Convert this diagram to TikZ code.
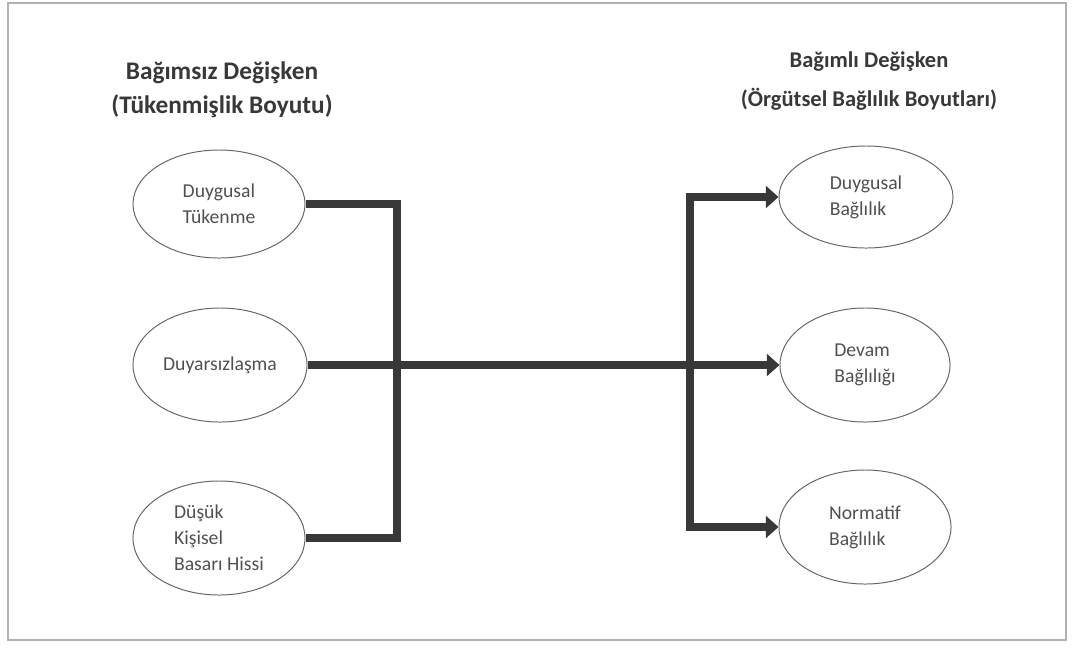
\documentclass[tikz,border=0pt]{standalone}
\usepackage{fontspec}
\setmainfont{Carlito}
\usepackage{tikz}
\usetikzlibrary{shapes.geometric,arrows.meta}
\definecolor{linegray}{HTML}{383838}
\definecolor{textgray}{HTML}{505050}

\begin{document}
\begin{tikzpicture}[x=0.025cm,y=-0.025cm,
    oval/.style={ellipse,draw=gray!80!black,line width=0.7pt,inner sep=0pt,
      align=left,text=textgray,font=\fontsize{14}{18.5}\selectfont},
    link/.style={draw=linegray,line width=5.6pt,line join=miter},
    arr/.style={link,-{Triangle[length=9pt,width=15.5pt]}}]
   \useasboundingbox (0,0) rectangle (1072,647);
   \draw[gray!60,line width=0.8pt] (8,3) rectangle (1066,640);
   % titles
   \node[align=center,text=linegray,font=\bfseries\fontsize{18}{24}\selectfont] (ttl_in) at (222,90)
      {Bağımsız Değişken\\(Tükenmişlik Boyutu)};
   \node[align=center,text=linegray,font=\bfseries\fontsize{16}{28}\selectfont] (ttl_dep) at (869,81)
      {Bağımlı Değişken\\(Örgütsel Bağlılık Boyutları)};
   % independent dimensions
   \node[oval,minimum width=4.3cm,minimum height=2.7cm] (in_1) at (219,204) {Duygusal\\Tükenme};
   \node[oval,minimum width=4.35cm,minimum height=2.85cm] (in_2) at (220,365) {Duyarsızlaşma};
   \node[oval,minimum width=4.3cm,minimum height=2.85cm] (in_3) at (219,538) {Düşük\\Kişisel\\Basarı Hissi};
   % dependent dimensions
   \node[oval,minimum width=4.35cm,minimum height=2.55cm] (dep_1) at (866,197) {Duygusal\\Bağlılık};
   \node[oval,minimum width=4.25cm,minimum height=2.85cm] (dep_2) at (865,365) {Devam\\Bağlılığı};
   \node[oval,minimum width=4.3cm,minimum height=2.85cm] (dep_3) at (865,527) {Normatif\\Bağlılık};
   \coordinate (j_in) at (397,365);
   \coordinate (j_dep) at (690,365);
   \path[link] (in_1.east) -| (j_in) |- (in_3.east);
   \path[arr] (in_2.east) -- (dep_2.west);
   \path[arr] (j_dep) |- (dep_1.west);
   \path[arr] (j_dep) |- (dep_3.west);
\end{tikzpicture}
\end{document}
